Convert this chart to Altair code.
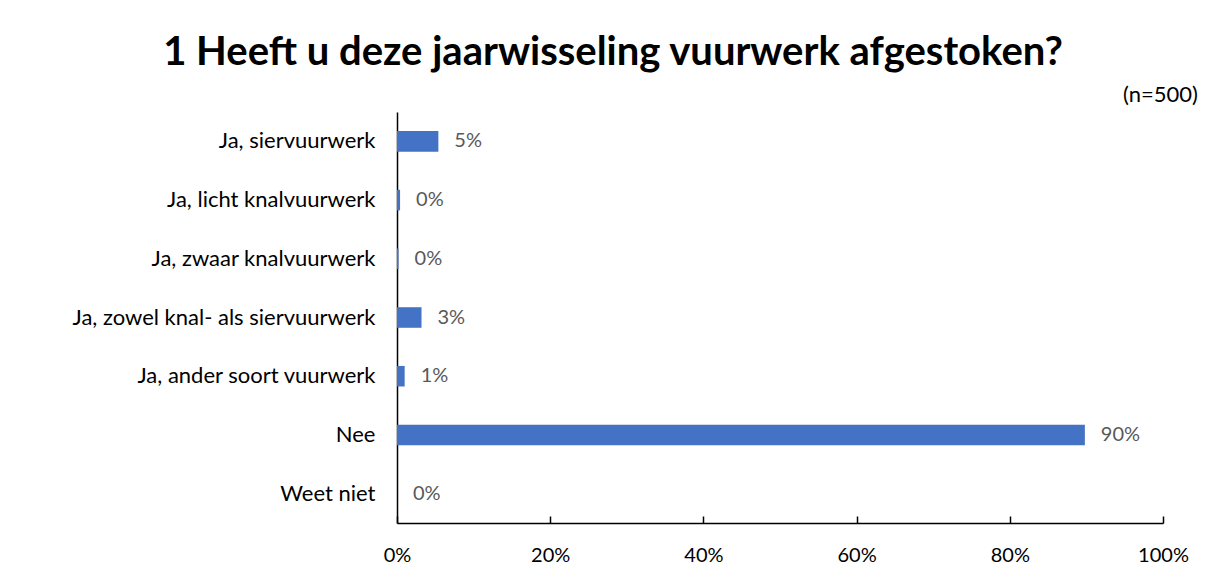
import altair as alt
import pandas as pd

categories = [
    "Ja, siervuurwerk",
    "Ja, licht knalvuurwerk",
    "Ja, zwaar knalvuurwerk",
    "Ja, zowel knal- als siervuurwerk",
    "Ja, ander soort vuurwerk",
    "Nee",
    "Weet niet",
]
values = [0.054, 0.004, 0.002, 0.032, 0.010, 0.898, 0.0]
x_ticks = [0, 0.2, 0.4, 0.6, 0.8, 1.0]
title_text = "1 Heeft u deze jaarwisseling vuurwerk afgestoken?"
n_label = ["(n=500)"]

df = pd.DataFrame({"cat": categories, "value": values})
FONT = "Lato"
FS = 20

y_enc = alt.Y(
    "cat:N",
    sort=categories,
    scale=alt.Scale(paddingInner=0.65, paddingOuter=0.325),
    axis=alt.Axis(
        title=None, ticks=False, domainColor="black", domainWidth=1.5,
        labelColor="black", labelFontSize=22, labelFont=FONT, labelPadding=22,
        labelLimit=400,
    ),
)

bars = alt.Chart(df).mark_bar(color="#4472C4").encode(
    x=alt.X(
        "value:Q",
        scale=alt.Scale(domain=[0, 1]),
        axis=alt.Axis(
            title=None, format=".0%", values=x_ticks, ticks=False, grid=False,
            domainColor="black", domainWidth=1.5, labelColor="black",
            labelFontSize=FS, labelFont=FONT, labelPadding=22, labelFlush=False,
        ),
    ),
    y=y_enc,
)

labels = alt.Chart(df).mark_text(
    align="left", baseline="middle", dx=16, color="#595959", fontSize=FS, font=FONT
).encode(
    x=alt.X(
        "value:Q",
        scale=alt.Scale(domain=[0, 1]),
        axis=alt.Axis(
            title=None, orient="bottom", values=x_ticks, labels=False, domain=False,
            ticks=True, tickSize=7, tickWidth=1.5, tickColor="black", offset=-7, grid=False,
        ),
    ),
    y=y_enc,
    text=alt.Text("value:Q", format=".0%"),
)

nlab = alt.Chart(pd.DataFrame({"t": n_label})).mark_text(
    align="right", baseline="middle", fontSize=22, font=FONT, color="black"
).encode(
    x=alt.value(801),
    y=alt.value(-17),
    text="t:N",
)

chart = (
    alt.layer(bars, labels, nlab)
    .resolve_scale(x="shared", y="shared")
    .resolve_axis(x="independent")
    .properties(
        width=766,
        height=411,
        autosize=alt.AutoSizeParams(type="none"),
        padding={"left": 389, "top": 104, "right": 35, "bottom": 46},
        title=alt.TitleParams(
            title_text, anchor="middle", dx=-167, fontSize=40, font=FONT,
            fontWeight="bold", color="black", offset=11,
        ),
        background="white",
    )
    .configure_view(stroke=None)
)

chart.save("out.html", embed_options={"renderer": "svg", "actions": False})
